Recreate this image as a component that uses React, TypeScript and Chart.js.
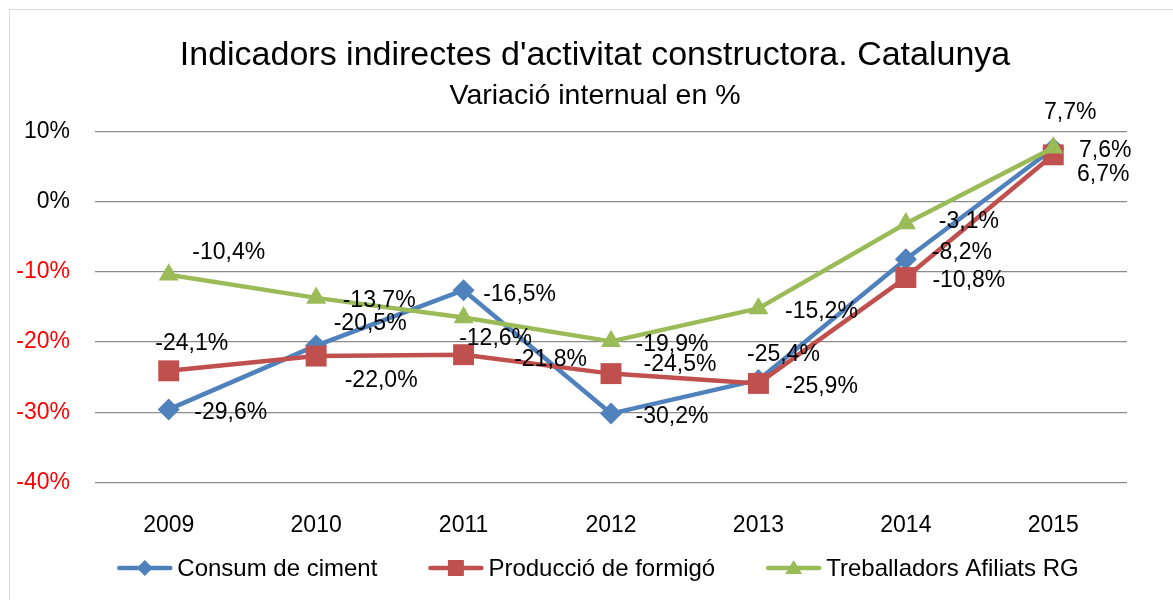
import { useEffect, useRef } from "react";
import { Chart, registerables } from "chart.js";

Chart.register(...registerables);

const years = ["2009", "2010", "2011", "2012", "2013", "2014", "2015"];
const consumCiment = [-29.6, -20.5, -12.6, -30.2, -25.4, -8.2, 7.6];
const produccioFormigo = [-24.1, -22.0, -21.8, -24.5, -25.9, -10.8, 6.7];
const treballadorsAfiliats = [-10.4, -13.7, -16.5, -19.9, -15.2, -3.1, 7.7];
const seriesNames = ["Consum de ciment", "Producció de formigó", "Treballadors Afiliats RG"];
const yMin = -40;
const yMax = 10;
const yStep = 10;

const titleText = "Indicadors indirectes d'activitat constructora. Catalunya";
const subtitleText = "Variació internual en %";

const FONT = "'Liberation Sans', Arial, sans-serif";
const colors = ["#4F81BD", "#C0504D", "#9BBB59"];
const pointStyles = ["rectRot", "rect", "triangle"];
const pointRadii = [11, 14.8, 11.5];
const drawOrder = [2, 1, 0];

// label placement offsets (relative to each point), per series
const labelOffsets = [
  [[62, 3], [54, -22], [32, 48], [61, 3], [25, -25], [56, -7], [52, 2]],
  [[23, -27], [65, 25], [87, 5], [69, -9], [63, 3], [63, 3], [50, 20]],
  [[60, -22], [63, 3], [56, -23], [61, 3], [63, 3], [63, -2], [17, -35]],
];

const fmt = (v: number) => v.toFixed(1).replace(".", ",") + "%";

const backgroundPlugin = {
  id: "bgBorder",
  beforeDraw(chart: any) {
    const ctx = chart.ctx;
    ctx.save();
    ctx.fillStyle = "#ffffff";
    ctx.fillRect(0, 0, chart.width, chart.height);
    ctx.strokeStyle = "#d9d9d9";
    ctx.lineWidth = 1;
    ctx.strokeRect(9.5, 9.5, chart.width + 20, chart.height + 20);
    ctx.restore();
  },
};

// centre the title blocks over the whole chart frame rather than the padded box
const titleCenterPlugin = {
  id: "titleCenter",
  afterLayout(chart: any) {
    chart.boxes.forEach((b: any) => {
      if (b && !b.axis && b.options && b.options.text !== undefined && b.position === "top") {
        b.left = 63;
        b.right = 1127;
      }
    });
  },
};

const dataLabelPlugin = {
  id: "dataLabels",
  afterDatasetsDraw(chart: any) {
    const ctx = chart.ctx;
    ctx.save();
    ctx.font = `23px ${FONT}`;
    ctx.fillStyle = "#000";
    ctx.textAlign = "center";
    ctx.textBaseline = "middle";
    chart.data.datasets.forEach((ds: any, i: number) => {
      const meta = chart.getDatasetMeta(i);
      meta.data.forEach((pt: any, j: number) => {
        const off = labelOffsets[i][j];
        ctx.fillText(fmt(ds.data[j]), pt.x + off[0], pt.y + off[1]);
      });
    });
    ctx.restore();
  },
};

function drawMarker(ctx: CanvasRenderingContext2D, style: string, x: number, y: number) {
  ctx.beginPath();
  if (style === "rectRot") {
    ctx.moveTo(x, y - 8);
    ctx.lineTo(x + 8, y);
    ctx.lineTo(x, y + 8);
    ctx.lineTo(x - 8, y);
  } else if (style === "rect") {
    ctx.rect(x - 8, y - 8, 16, 16);
  } else {
    ctx.moveTo(x, y - 8);
    ctx.lineTo(x + 8.5, y + 6);
    ctx.lineTo(x - 8.5, y + 6);
  }
  ctx.closePath();
  ctx.fill();
}

const legendPlugin = {
  id: "customLegend",
  afterDraw(chart: any) {
    const ctx = chart.ctx;
    ctx.save();
    ctx.font = `24px ${FONT}`;
    const sample = 55;
    const gapText = 5;
    const gapItem = 51;
    const widths = seriesNames.map((n) => ctx.measureText(n).width);
    const total = widths.reduce((a, b) => a + b, 0) + seriesNames.length * (sample + gapText) + gapItem * (seriesNames.length - 1);
    let x = 598 - total / 2;
    const y = 568;
    seriesNames.forEach((name, i) => {
      ctx.strokeStyle = colors[i];
      ctx.fillStyle = colors[i];
      ctx.lineWidth = 4.5;
      ctx.lineCap = "round";
      ctx.beginPath();
      ctx.moveTo(x + 2, y);
      ctx.lineTo(x + sample - 2, y);
      ctx.stroke();
      drawMarker(ctx, pointStyles[i], x + sample / 2, y);
      ctx.fillStyle = "#000";
      ctx.textAlign = "left";
      ctx.textBaseline = "middle";
      ctx.fillText(name, x + sample + gapText, y + 1);
      x += sample + gapText + widths[i] + gapItem;
    });
    ctx.restore();
  },
};

export default function App() {
  const ref = useRef<HTMLCanvasElement | null>(null);
  useEffect(() => {
    if (!ref.current) return;
    const seriesData = [consumCiment, produccioFormigo, treballadorsAfiliats];
    const chart = new Chart(ref.current, {
      type: "line",
      data: {
        labels: years,
        datasets: seriesData.map((d, i) => ({
          label: seriesNames[i],
          data: d,
          borderColor: colors[i],
          backgroundColor: colors[i],
          borderWidth: 4.5,
          borderJoinStyle: "round" as const,
          pointStyle: pointStyles[i] as any,
          pointRadius: pointRadii[i],
          pointBackgroundColor: colors[i],
          pointBorderColor: colors[i],
          pointBorderWidth: 0,
          tension: 0,
          order: drawOrder[i],
          clip: false as any,
        })),
      },
      options: {
        animation: false,
        responsive: false,
        layout: { padding: { left: 0, right: 46, top: 0, bottom: 67.7 } },
        plugins: {
          legend: { display: false },
          tooltip: { enabled: false },
          title: {
            display: true,
            text: titleText,
            color: "#000",
            font: { family: FONT, size: 34, weight: "normal" },
            padding: { top: 35.2, bottom: 0 },
          },
          subtitle: {
            display: true,
            text: subtitleText,
            color: "#000",
            font: { family: FONT, size: 28.5, weight: "normal" },
            padding: { top: 3.2, bottom: 18.3 },
          },
        },
        scales: {
          x: {
            type: "category",
            offset: true,
            grid: { display: false },
            border: { display: false },
            ticks: { color: "#000", font: { family: FONT, size: 23 }, padding: 22 },
            afterFit: (s: any) => {
              s.height = 50;
            },
          },
          y: {
            min: yMin,
            max: yMax,
            border: { display: false },
            grid: { color: "#8c8c8c", lineWidth: 1.3, drawTicks: false },
            ticks: {
              stepSize: yStep,
              padding: 25,
              font: { family: FONT, size: 23 },
              color: (c: any) => (c.tick && c.tick.value < 0 ? "#FF0000" : "#000000"),
              callback: (v: any) => v + "%",
            },
            afterFit: (s: any) => {
              s.width = 95;
            },
          },
        },
      },
      plugins: [backgroundPlugin, titleCenterPlugin, dataLabelPlugin, legendPlugin],
    });
    return () => chart.destroy();
  }, []);
  return (
    <div style={{ position: "fixed", left: 0, top: 0, width: 1173, height: 600, overflow: "hidden", background: "#fff" }}>
      <canvas ref={ref} width={1173} height={600} style={{ display: "block" }} />
    </div>
  );
}
